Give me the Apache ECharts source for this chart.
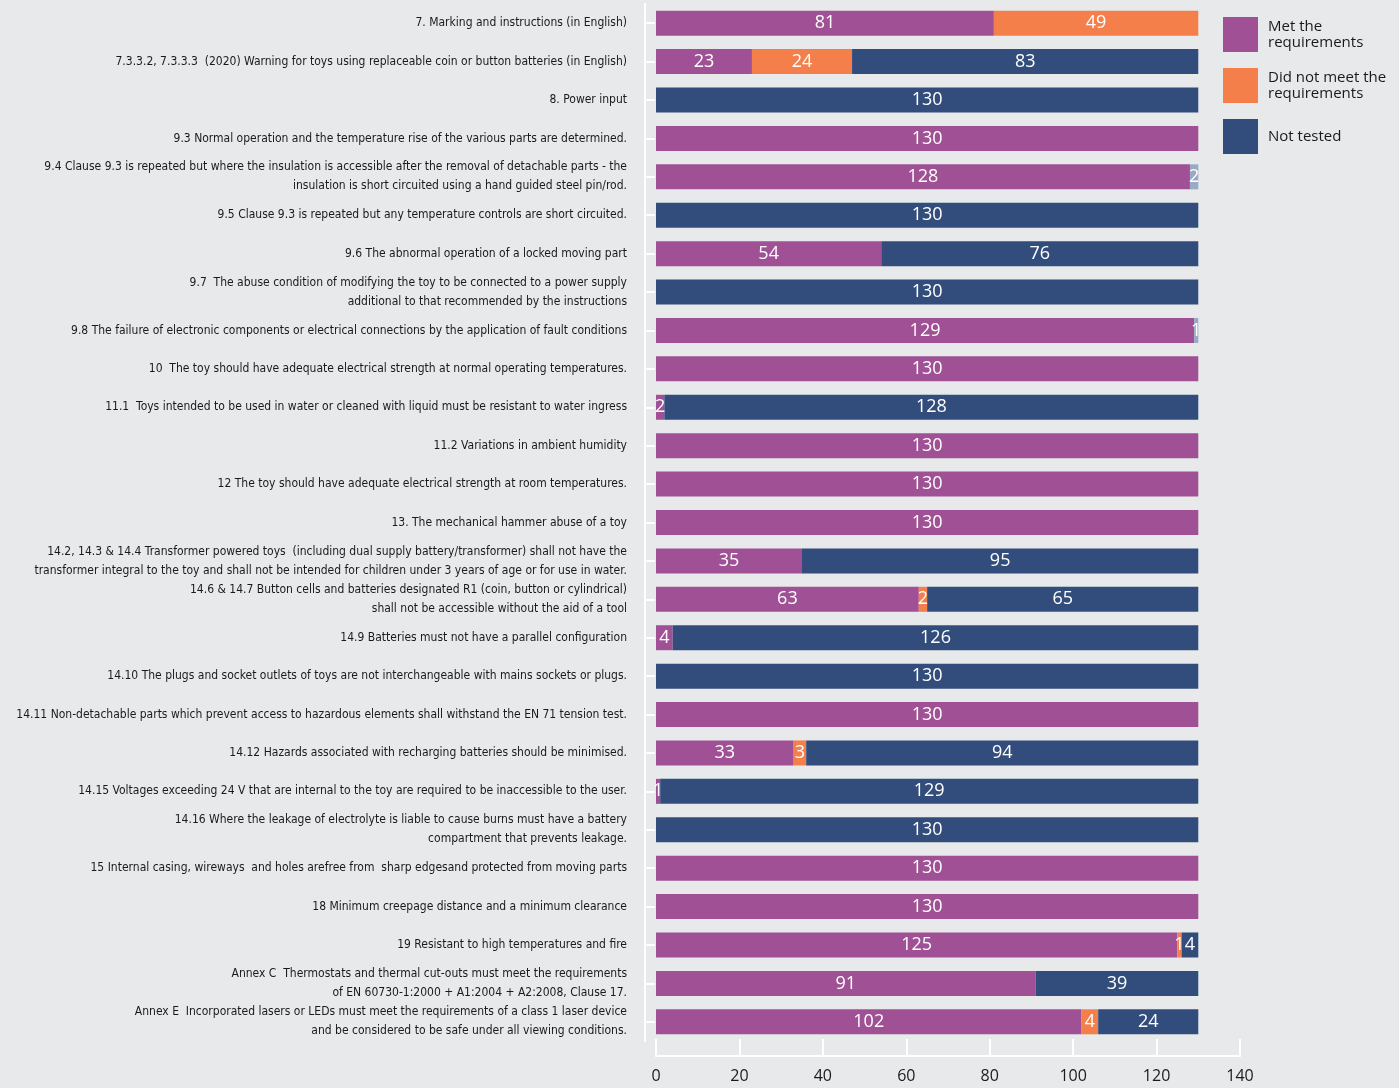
<!DOCTYPE html>
<html>
<head>
<meta charset="utf-8">
<script src="https://cdn.jsdelivr.net/npm/echarts@6/dist/echarts.min.js"></script>
<style>
  html, body { margin: 0; padding: 0; background: #e8e9eb; }
  #chart { width: 1399px; height: 1088px; }
</style>
</head>
<body>
<div id="chart"></div>
<script>
// categories, top to bottom
var categories = [
    '7. Marking and instructions (in English)',
    '7.3.3.2, 7.3.3.3  (2020) Warning for toys using replaceable coin or button batteries (in English)',
    '8. Power input',
    '9.3 Normal operation and the temperature rise of the various parts are determined.',
    '9.4 Clause 9.3 is repeated but where the insulation is accessible after the removal of detachable parts - the\ninsulation is short circuited using a hand guided steel pin/rod.',
    '9.5 Clause 9.3 is repeated but any temperature controls are short circuited.',
    '9.6 The abnormal operation of a locked moving part',
    '9.7  The abuse condition of modifying the toy to be connected to a power supply\nadditional to that recommended by the instructions',
    '9.8 The failure of electronic components or electrical connections by the application of fault conditions',
    '10  The toy should have adequate electrical strength at normal operating temperatures.',
    '11.1  Toys intended to be used in water or cleaned with liquid must be resistant to water ingress',
    '11.2 Variations in ambient humidity',
    '12 The toy should have adequate electrical strength at room temperatures.',
    '13. The mechanical hammer abuse of a toy',
    '14.2, 14.3 & 14.4 Transformer powered toys  (including dual supply battery/transformer) shall not have the\ntransformer integral to the toy and shall not be intended for children under 3 years of age or for use in water.',
    '14.6 & 14.7 Button cells and batteries designated R1 (coin, button or cylindrical)\nshall not be accessible without the aid of a tool',
    '14.9 Batteries must not have a parallel configuration',
    '14.10 The plugs and socket outlets of toys are not interchangeable with mains sockets or plugs.',
    '14.11 Non-detachable parts which prevent access to hazardous elements shall withstand the EN 71 tension test.',
    '14.12 Hazards associated with recharging batteries should be minimised.',
    '14.15 Voltages exceeding 24 V that are internal to the toy are required to be inaccessible to the user.',
    '14.16 Where the leakage of electrolyte is liable to cause burns must have a battery\ncompartment that prevents leakage.',
    '15 Internal casing, wireways  and holes arefree from  sharp edgesand protected from moving parts',
    '18 Minimum creepage distance and a minimum clearance',
    '19 Resistant to high temperatures and fire',
    'Annex C  Thermostats and thermal cut-outs must meet the requirements\nof EN 60730-1:2000 + A1:2004 + A2:2008, Clause 17.',
    'Annex E  Incorporated lasers or LEDs must meet the requirements of a class 1 laser device\nand be considered to be safe under all viewing conditions.'
];

var met       = [81, 23, 0, 130, 128, 0, 54, 0, 129, 130, 2, 130, 130, 130, 35, 63, 4, 0, 130, 33, 1, 0, 130, 130, 125, 91, 102];
var notMet    = [49, 24, 0, 0, 0, 0, 0, 0, 0, 0, 0, 0, 0, 0, 0, 2, 0, 0, 0, 3, 0, 0, 0, 0, 1, 0, 4];
var notTested = [0, 83, 130, 0, 0, 130, 76, 130, 0, 0, 128, 0, 0, 0, 95, 65, 126, 130, 0, 94, 129, 130, 0, 0, 4, 39, 24];
var other     = [0, 0, 0, 0, 2, 0, 0, 0, 1, 0, 0, 0, 0, 0, 0, 0, 0, 0, 0, 0, 0, 0, 0, 0, 0, 0, 0];

var xTicks = [0, 20, 40, 60, 80, 100, 120, 140];

var chart = echarts.init(document.getElementById('chart'));

function barSeries(name, data, color) {
    return {
        name: name,
        type: 'bar',
        stack: 'all',
        data: data,
        barWidth: 25,
        itemStyle: { color: color },
        label: {
            show: true,
            position: 'inside',
            color: '#ffffff',
            fontFamily: 'Open Sans',
            fontSize: 18,
            formatter: function(p) { return p.value ? p.value : ''; }
        }
    };
}

chart.setOption({
    backgroundColor: '#e8e9eb',
    animation: false,
    legend: {
        orient: 'vertical',
        left: 1218,
        top: 12,
        itemWidth: 35,
        itemHeight: 35,
        itemGap: 16,
        icon: 'rect',
        data: ['Met the\nrequirements', 'Did not meet the\nrequirements', 'Not tested'],
        textStyle: {
            fontFamily: 'Open Sans',
            fontSize: 15,
            lineHeight: 16,
            color: '#1a1a1a',
            padding: [0, 0, 0, 5]
        }
    },
    grid: {
        left: 656,
        right: 159,
        top: 4,
        bottom: 47,
        containLabel: false,
        outerBoundsMode: 'none'
    },
    xAxis: {
        type: 'value',
        min: 0,
        max: 140,
        interval: 20,
        offset: 15,
        axisLine: { show: true, onZero: false, lineStyle: { color: '#ffffff', width: 2 } },
        axisTick: { show: true, inside: true, length: 17, lineStyle: { color: '#ffffff', width: 2 } },
        splitLine: { show: false },
        axisLabel: {
            color: '#1a1a1a',
            fontFamily: 'Open Sans',
            fontSize: 16,
            margin: 12,
            formatter: function(v) { return xTicks.indexOf(v) >= 0 ? v : ''; }
        }
    },
    yAxis: {
        type: 'category',
        inverse: true,
        data: categories,
        offset: 11,
        axisLine: { show: true, onZero: false, lineStyle: { color: '#ffffff', width: 2 } },
        axisTick: { show: true, inside: true, alignWithLabel: true, length: 10, lineStyle: { color: '#ffffff', width: 2 } },
        axisLabel: {
            color: '#1a1a1a',
            fontFamily: "'DejaVu Sans Condensed', 'Liberation Sans', sans-serif",
            fontSize: 12,
            lineHeight: 19,
            margin: 18,
            align: 'right'
        }
    },
    series: [
        barSeries('Met the\nrequirements', met, '#a05094'),
        barSeries('Did not meet the\nrequirements', notMet, '#f47f4a'),
        barSeries('Not tested', notTested, '#324d7c'),
        barSeries('Other', other, '#9aaac5')
    ]
});
</script>
</body>
</html>
